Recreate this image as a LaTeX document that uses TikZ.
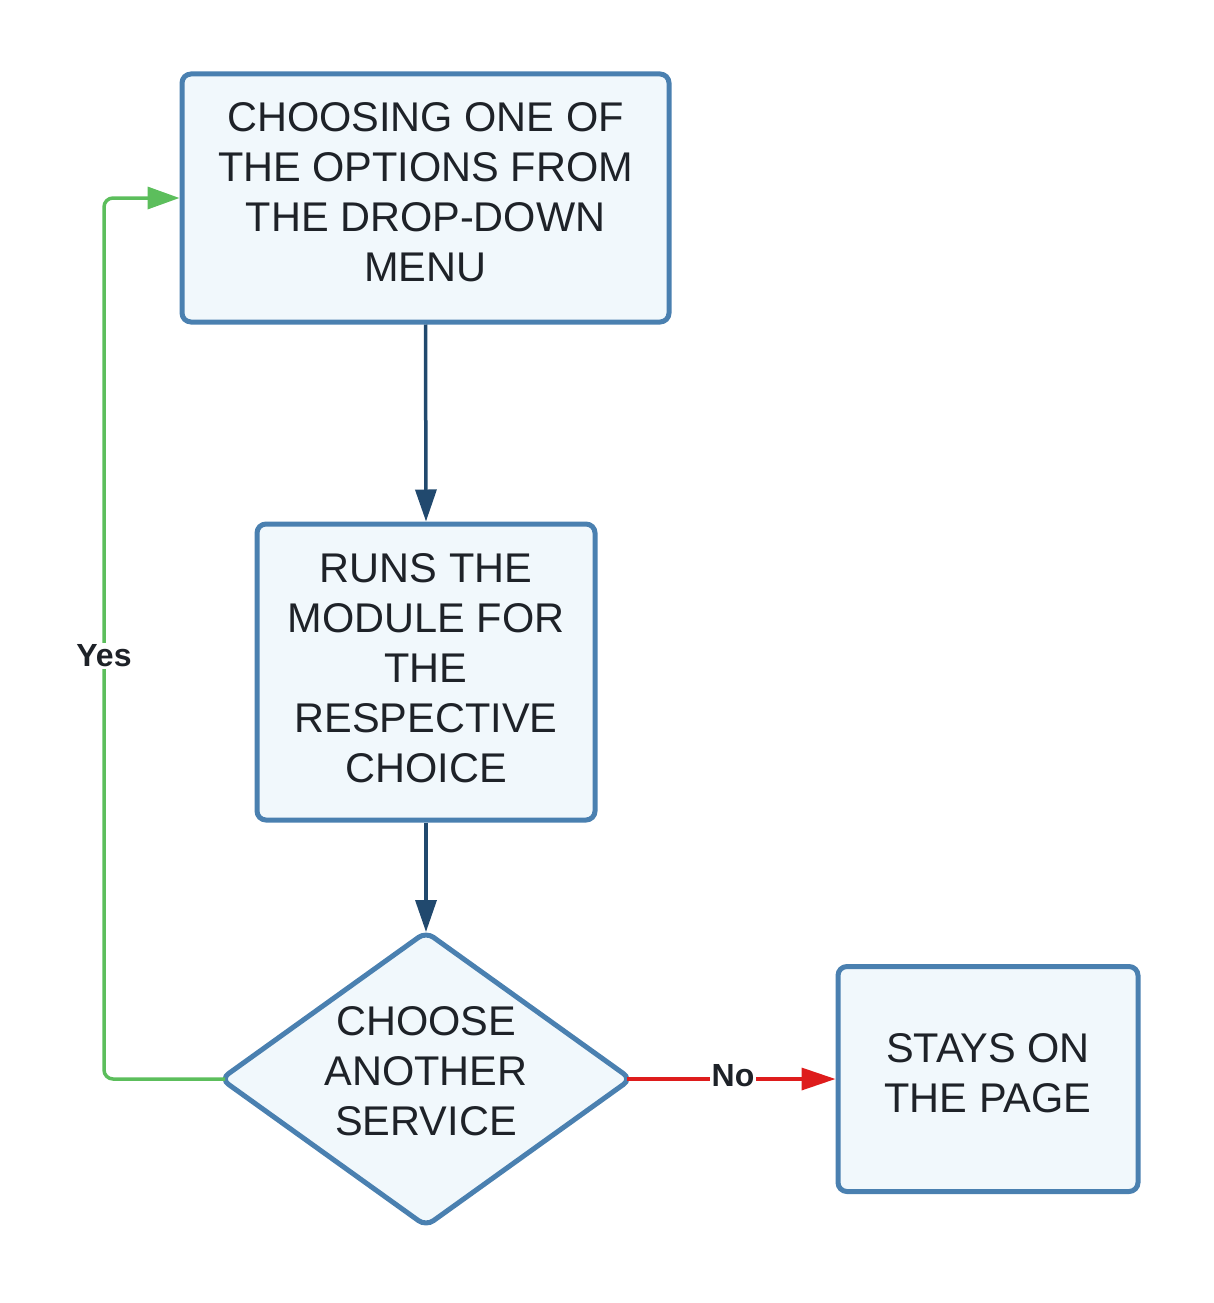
\documentclass[tikz,border=0pt]{standalone}
\usepackage{fontspec}
\setmainfont{Liberation Sans}
\usetikzlibrary{arrows.meta,shapes.geometric}
\definecolor{bord}{RGB}{74,128,176}
\definecolor{boxfill}{RGB}{241,248,252}
\definecolor{darkarr}{RGB}{33,73,110}
\definecolor{greenarr}{RGB}{92,190,92}
\definecolor{redarr}{RGB}{222,28,28}
\definecolor{txt}{RGB}{30,34,40}
\begin{document}
\begin{tikzpicture}[x=1pt,y=-1pt,
  stepbox/.style={draw=bord,fill=boxfill,line width=5pt,rounded corners=9pt,inner sep=0pt},
  decision/.style={draw=bord,fill=boxfill,line width=5pt,diamond,rounded corners=9pt,
    inner sep=0pt,outer sep=0pt},
  btext/.style={align=center,text=txt,font=\fontsize{41.5}{50}\selectfont,inner sep=0pt},
  flow/.style={draw=darkarr,line width=3.5pt,-{Triangle[length=32pt,width=21pt]}},
  yesflow/.style={draw=greenarr,line width=3.5pt,rounded corners=9pt,shorten <=-4pt,-{Triangle[length=32pt,width=22pt]}},
  noflow/.style={draw=redarr,line width=3.5pt,shorten <=-4pt,-{Triangle[length=34pt,width=22pt]}},
  elabel/.style={fill=white,inner sep=2pt,text=txt,font=\fontsize{32}{34}\selectfont\bfseries}
]
\useasboundingbox (0,0) rectangle (1213,1303);
\node[stepbox,minimum width=487pt,minimum height=248pt] (a) at (425.5,198) {};
\node[btext] (at) at ([yshift=6pt]a.center)
  {CHOOSING ONE OF\\THE OPTIONS FROM\\THE DROP-DOWN\\MENU};
\node[stepbox,minimum width=338pt,minimum height=296pt] (b) at (426,672) {};
\node[btext] (bt) at ([yshift=4pt]b.center)
  {RUNS THE\\MODULE FOR\\THE\\RESPECTIVE\\CHOICE};
\node[decision,minimum width=410pt,minimum height=294pt] (d) at (426,1079) {};
\node[btext] (dt) at ([yshift=8pt]d.center) {CHOOSE\\ANOTHER\\SERVICE};
\node[stepbox,minimum width=300pt,minimum height=225pt] (c) at (988,1079) {};
\node[btext] (ct) at ([yshift=6pt]c.center) {STAYS ON\\THE PAGE};
\coordinate (yb) at (104,1079);
\coordinate (yt) at (104,198);
\draw[flow] (a.south) -- (b.north);
\draw[flow] (b.south) -- (d.north);
\draw[yesflow] (d.west) -- (yb) -- (yt) -- (a.west);
\node[elabel] (yes) at (104,656) {Yes};
\draw[noflow] (d.east) -- (c.west);
\node[elabel] (no) at (733,1076) {No};
\end{tikzpicture}
\end{document}
